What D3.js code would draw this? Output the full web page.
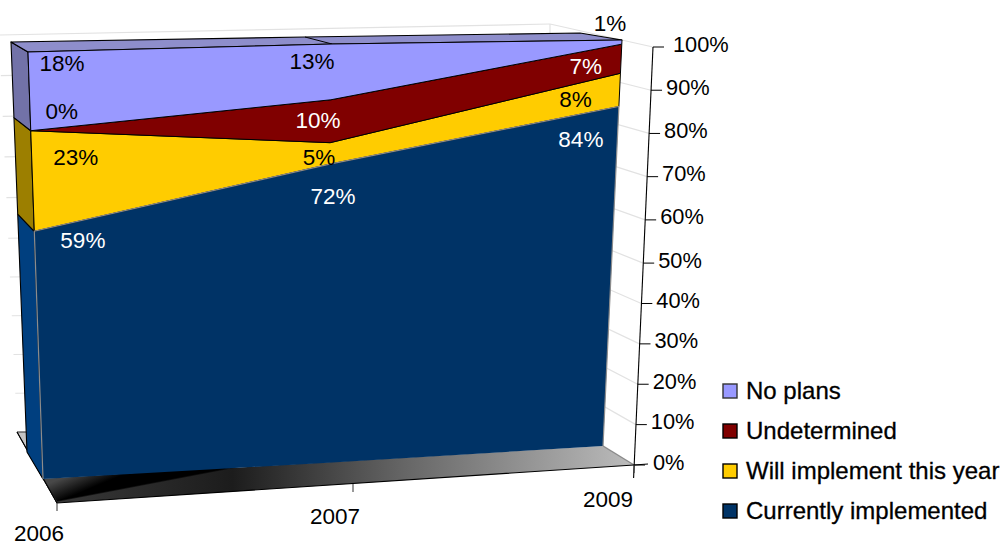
<!DOCTYPE html>
<html><head><meta charset="utf-8">
<script src="https://cdn.jsdelivr.net/npm/d3@7/dist/d3.min.js"></script>
<style>html,body{margin:0;padding:0;background:#fff;overflow:hidden}text{font-family:"Liberation Sans",Arial,sans-serif}</style>
</head><body><svg id="c" width="1002" height="541"></svg>
<script>
const years = ["2006","2007","2009"];
const seriesNames = ["Currently implemented","Will implement this year","Undetermined","No plans"];
const currentlyImplemented = [59,72,84];
const willImplement = [23,5,8];
const undetermined = [0,10,7];
const noPlans = [18,13,1];
const valueTicks = [0,10,20,30,40,50,60,70,80,90,100];
const seriesValues = [currentlyImplemented,willImplement,undetermined,noPlans];
const fills = ["#003366","#FFCC00","#800000","#9999FF"];
const sideFills = ["#003F7F","#9C7F00","#5A0000","#7272A8"];

const svg = d3.select("#c");
const defs = svg.append("defs");
const g1 = defs.append("linearGradient").attr("id","floor").attr("gradientUnits","userSpaceOnUse")
  .attr("x1",60).attr("y1",470).attr("x2",634).attr("y2",470);
[[0,"#383838"],[0.3,"#1c1c1c"],[0.6,"#666"],[1,"#bcbcbc"]].forEach(s=>g1.append("stop").attr("offset",s[0]).attr("stop-color",s[1]));
const g2 = defs.append("linearGradient").attr("id","floor2").attr("gradientUnits","userSpaceOnUse")
  .attr("x1",62).attr("y1",478).attr("x2",70).attr("y2",497);
g2.append("stop").attr("offset",0).attr("stop-color","#484848");
g2.append("stop").attr("offset",1).attr("stop-color","#000");

// perspective scales
const f = d3.scaleLinear().domain([0,50,100]).range([0,0.488,1]);
const fAxis = d3.scaleLinear().domain([0,50,100]).range([0,0.483,1]);
const lerp = (a,b,t)=>a+(b-a)*t;
const cat = d3.scalePoint().domain(years).range([0,2]);
const fBX = d3.scaleLinear().domain([0,1,2]).range([43,324,603]);
const fBY = d3.scaleLinear().domain([0,1,2]).range([479,463,446]);
const fTX = d3.scaleLinear().domain([0,1,2]).range([28,332,622]);
const fTY = d3.scaleLinear().domain([0,1,2]).range([52,44,40]);
const front = (y,v)=>{const c=cat(y),t=f(v);return [lerp(fBX(c),fTX(c),t),lerp(fBY(c),fTY(c),t)];};
const bTX = d3.scaleLinear().domain([0,1,2]).range([11,305,580]);
const bTY = d3.scaleLinear().domain([0,1,2]).range([42,37,33]);
const backLeft = v=>{const t=f(v);return [lerp(27,11,t),lerp(452,42,t)];};
const axisPt = v=>{const t=fAxis(v);return [lerp(634,653,t),lerp(465,47,t)];};
const wallL = v=>{const t=f(v);return [lerp(17,-1,t),lerp(432,35,t)];};
const wallR = v=>{const t=f(v);return [lerp(575,550,t),lerp(428,24,t)];};

const line = d3.line();
const stackData = years.map((y,i)=>{const o={year:y};seriesNames.forEach((s,k)=>o[s]=seriesValues[k][i]);return o;});
const layers = d3.stack().keys(seriesNames)(stackData);

// walls
valueTicks.forEach(v=>{
  svg.append("path").attr("d",line([wallL(v),wallR(v)])).attr("stroke","#e2e2e2").attr("stroke-width",1.2).attr("fill","none");
  svg.append("path").attr("d",line([wallR(v),axisPt(v)])).attr("stroke","#e2e2e2").attr("stroke-width",1.2).attr("fill","none");
});
svg.append("path").attr("d",line([wallR(100),[wallR(100)[0],33]])).attr("stroke","#e2e2e2").attr("stroke-width",1.2);

// floor
svg.append("path").attr("d",line([[17,432],[27,432],[30,456],[57,503]])+"Z").attr("fill","#c4c4c4").attr("stroke","#333").attr("stroke-width",1);
svg.append("path").attr("d",line([[43,479],[57,503],[634,465],[603,446]])+"Z").attr("fill","url(#floor)");
svg.append("path").attr("d",line([[43,479],[57,501],[240,466]])+"Z").attr("fill","url(#floor2)");
svg.append("path").attr("d",line([[57,501],[240,466]])).attr("stroke","#000").attr("stroke-width",1.5).attr("stroke-opacity",0.6);
svg.append("path").attr("d",line([[603,446],[634,465]])).attr("stroke","#8a8a8a").attr("stroke-width",1.2);
svg.append("path").attr("d",line([[17,432],[57,503],[634,465],[648,464]])).attr("stroke","#000").attr("stroke-width",1.1).attr("fill","none");

// side faces at the first category
layers.forEach((l,k)=>{
  const [a,b]=l[0];
  if(b===a) return;
  svg.append("path").attr("d",line([backLeft(a),backLeft(b),front(years[0],b),front(years[0],a)])+"Z")
    .attr("fill",sideFills[k]).attr("stroke","#000").attr("stroke-width",1.1).attr("stroke-linejoin","round");
});

// top face
const topFront = years.map(y=>front(y,100));
const topBack = years.map(y=>[bTX(cat(y)),bTY(cat(y))]);
svg.append("path").attr("d",line([...topBack,...topFront.slice().reverse()])+"Z")
  .attr("fill","#8E8ECB").attr("stroke","#000").attr("stroke-width",1.2).attr("stroke-linejoin","round");
svg.append("path").attr("d",line([topBack[1],topFront[1]])).attr("stroke","#000").attr("stroke-width",1);

// front faces
layers.forEach((l,k)=>{
  const top = l.map((d,i)=>front(years[i],d[1]));
  const bot = l.map((d,i)=>front(years[i],d[0])).reverse();
  svg.append("path").attr("d",line([...top,...bot])+"Z").attr("fill",fills[k])
    .attr("stroke",k===0?"none":"#000").attr("stroke-width",k===0?0:1).attr("stroke-linejoin","round");
});
// gray outline of the lowest band
const blueTop = layers[0].map((d,i)=>front(years[i],d[1]));
svg.append("path").attr("d",line([front(years[0],0),...blueTop,front(years[2],0)])).attr("fill","none").attr("stroke","#8c8c8c").attr("stroke-width",1.2);

// value axis
svg.append("path").attr("d",line([[633.6,478],axisPt(100)])).attr("stroke","#000").attr("stroke-width",1.1);
valueTicks.forEach(v=>{
  const [x,y]=axisPt(v);
  svg.append("path").attr("d",line([[x,y],[x+11,y]])).attr("stroke","#000").attr("stroke-width",1);
  svg.append("text").attr("x",x+(v===100?20:v===0?19:15)).attr("y",y+4.5).attr("font-size",21.8).attr("fill","#000").text(v+"%");
});

// category axis
const catTicks = [[57,503],[353,484],[634,465]];
const catLabelShift = [[-18,38],[-18,40],[-26,42]];
years.forEach((y,i)=>{
  const p=catTicks[i];
  svg.append("path").attr("d",line([p,[p[0],p[1]+8]])).attr("stroke","#333").attr("stroke-width",1);
  svg.append("text").attr("x",p[0]+catLabelShift[i][0]).attr("y",p[1]+catLabelShift[i][1]).attr("text-anchor","middle").attr("font-size",22.5).text(y);
});

// data labels: offset from the top of each band on the front face
const labelShift = [
  [[48.6,17],[3.3,40],[-38,40.4]],
  [[45,34],[-11,22],[-45,34]],
  [[31,-12],[-13,28],[-36,30]],
  [[34,19],[-20,25],[-12,-9]]
];
const labelColor = [["#fff","#fff","#fff"],["#000","#000","#000"],["#000","#fff","#fff"],["#000","#000","#000"]];
layers.forEach((l,k)=>{
  l.forEach((d,i)=>{
    const [x,y]=front(years[i],d[1]);
    svg.append("text").attr("text-anchor","middle").attr("font-size",22.5)
      .attr("fill",labelColor[k][i])
      .attr("x",x+labelShift[k][i][0]).attr("y",y+labelShift[k][i][1]).text(d.data[seriesNames[k]]+"%");
  });
});

// legend
const legendOrder = ["No plans","Undetermined","Will implement this year","Currently implemented"];
const legY = d3.scalePoint().domain(legendOrder).range([391,511]);
legendOrder.forEach(n=>{
  const k=seriesNames.indexOf(n), y=legY(n);
  svg.append("rect").attr("x",723).attr("y",y-7).attr("width",14).attr("height",14)
    .attr("fill",fills[k]).attr("stroke",k===3?"#333":"#000").attr("stroke-width",1.4);
  svg.append("text").attr("x",746).attr("y",y+8).attr("font-size",24).attr("fill","#000")
    .attr("stroke","#000").attr("stroke-width",0.3).text(n);
});
</script></body></html>
